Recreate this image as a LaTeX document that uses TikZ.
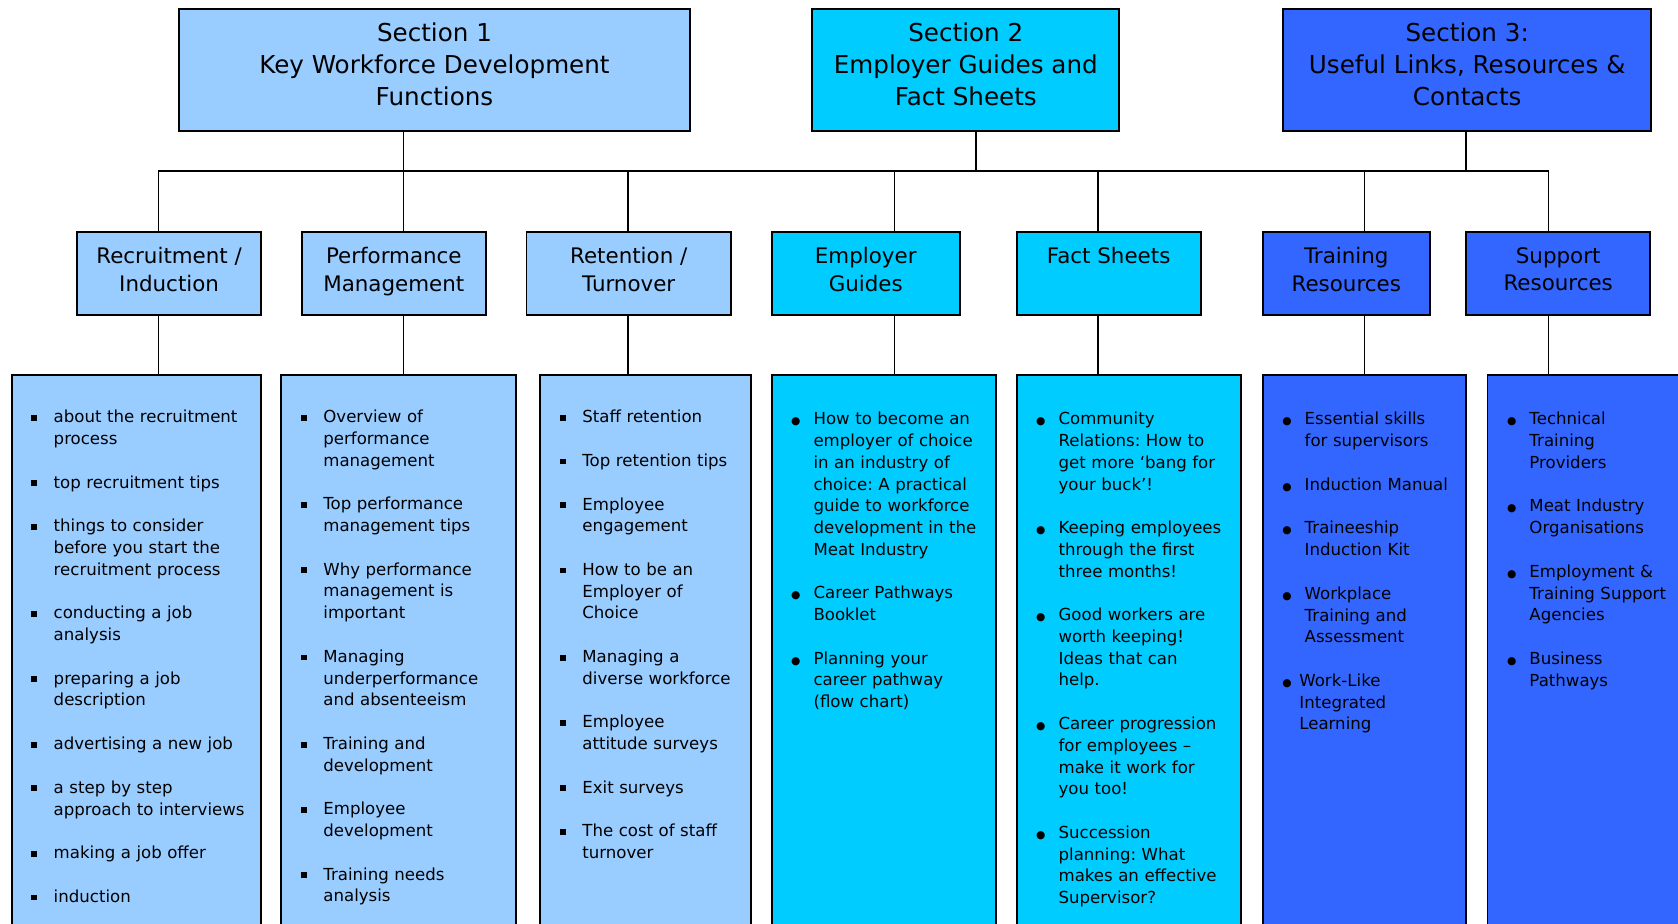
\documentclass[tikz,border=0pt]{standalone}
\usepackage{fontspec}
\setmainfont{DejaVu Sans}
\frenchspacing
\definecolor{paleblue}{HTML}{99CCFF}
\definecolor{skyblue}{HTML}{00CCFF}
\definecolor{royalblue}{HTML}{3366FF}
\newcommand{\sqbul}{\raisebox{1.8pt}{\rule{5.5pt}{5.5pt}}}
\newcommand{\rdbul}{{\fontsize{10pt}{10pt}\selectfont ●}}
\newenvironment{wflist}[1]{%
  \raggedright
  \begin{list}{#1}{%
    \setlength{\leftmargin}{39pt}%
    \setlength{\labelwidth}{39pt}%
    \setlength{\labelsep}{0pt}%
    \setlength{\itemindent}{0pt}%
    \setlength{\itemsep}{20.5pt}%
    \setlength{\parsep}{0pt}%
    \setlength{\topsep}{0pt}%
    \setlength{\partopsep}{0pt}%
    \renewcommand{\makelabel}[1]{\makebox[39pt][l]{\hspace{18pt}##1}}}}%
  {\end{list}}
\begin{document}
\begin{tikzpicture}[x=1pt,y=-1pt,
  box/.style={draw=black,line width=1.8pt,inner sep=0pt,outer sep=0pt,align=center},
  topbox/.style={box,minimum height=114pt,font=\fontsize{23pt}{30pt}\selectfont},
  headbox/.style={box,minimum height=77pt,font=\fontsize{20pt}{26pt}\selectfont},
  colbox/.style={box,minimum height=590pt},
  items/.style={anchor=north west,inner sep=0pt,font=\fontsize{15.5pt}{20.3pt}\selectfont},
  conn/.style={line width=1.5pt}]
\fill[white] (0,0) rectangle (1568,863.4);
\useasboundingbox (0,0) rectangle (1568,863.4);

\node[topbox,fill=paleblue,minimum width=478pt] (sec1) at (406,65) {Section 1\\Key Workforce Development\\Functions\\[-20pt]\mbox{}};
\node[topbox,fill=skyblue,minimum width=287pt] (sec2) at (902.5,65) {Section 2\\Employer Guides and\\Fact Sheets\\[-20pt]\mbox{}};
\node[topbox,fill=royalblue,minimum width=344pt] (sec3) at (1371,65) {Section 3:\\Useful Links, Resources \&\\Contacts\\[-20pt]\mbox{}};

\node[headbox,fill=paleblue,minimum width=172pt] (rec) at (158,255.5) {Recruitment /\\Induction\\[-18pt]\mbox{}};
\node[headbox,fill=paleblue,minimum width=172pt] (perf) at (368,255.5) {Performance\\Management\\[-18pt]\mbox{}};
\node[headbox,fill=paleblue,minimum width=191pt] (ret) at (587.5,255.5) {Retention /\\Turnover\\[-18pt]\mbox{}};
\node[headbox,fill=skyblue,minimum width=176pt] (emp) at (809,255.5) {Employer\\Guides\\[-18pt]\mbox{}};
\node[headbox,fill=skyblue,minimum width=172pt] (fact) at (1036,255.5) {Fact Sheets\\\strut};
\node[headbox,fill=royalblue,minimum width=156pt] (train) at (1258,255.5) {Training\\Resources\\[-18pt]\mbox{}};
\node[headbox,fill=royalblue,minimum width=172pt] (sup) at (1456,255.5) {Support\\Resources\\[-18pt]\mbox{}};

\foreach \n/\x/\w/\c in {1/127.5/233/paleblue,2/372.5/219/paleblue,3/603.5/197/paleblue,
  4/826/210/skyblue,5/1055/210/skyblue,6/1275/190/royalblue,7/1550/320/royalblue}
{
    \node[colbox,fill=\c,minimum width=\w pt] (l\n) at (\x,645.5) {};
}

\foreach \n/\x in {1/148,2/377,3/587,4/836,5/1026,6/1275,7/1447}
{
    \coordinate (b\n) at (\x,160);
}
\coordinate (s2) at (912,160);
\coordinate (s3) at (1370,160);
\draw[conn] (b1) -- (b7);
\draw[conn] (sec1.south -| b2) -- (b2);
\draw[conn] (sec2.south -| s2) -- (s2);
\draw[conn] (sec3.south -| s3) -- (s3);
\foreach \n/\h in {1/rec,2/perf,3/ret,4/emp,5/fact,6/train,7/sup}
{
    \draw[conn] (b\n) -- (b\n |- \h.north);
    \draw[conn] (b\n |- \h.south) -- (b\n |- l\n.north);
}

\node[items,text width=233pt] (t1) at ([yshift=-24pt]l1.north west) {\begin{wflist}{\sqbul}
\item about the recruitment\newline process
\item top recruitment tips
\item things to consider\newline before you start the\newline recruitment process
\item conducting a job\newline analysis
\item preparing a job\newline description
\item advertising a new job
\item a step by step\newline approach to interviews
\item making a job offer
\item induction
\end{wflist}};
\node[items,text width=219pt] (t2) at ([yshift=-24pt]l2.north west) {\begin{wflist}{\sqbul}
\item Overview of\newline performance\newline management
\item Top performance\newline management tips
\item Why performance\newline management is\newline important
\item Managing\newline underperformance\newline and absenteeism
\item Training and\newline development
\item Employee\newline development
\item Training needs\newline analysis
\end{wflist}};
\node[items,text width=197pt] (t3) at ([yshift=-24pt]l3.north west) {\begin{wflist}{\sqbul}
\item Staff retention
\item Top retention tips
\item Employee\newline engagement
\item How to be an\newline Employer of\newline Choice
\item Managing a\newline diverse workforce
\item Employee\newline attitude surveys
\item Exit surveys
\item The cost of staff\newline turnover
\end{wflist}};
\node[items,text width=210pt] (t4) at ([yshift=-26pt]l4.north west) {\begin{wflist}{\rdbul}
\item How to become an\newline employer of choice\newline in an industry of\newline choice: A practical\newline guide to workforce\newline development in the\newline Meat Industry
\item Career Pathways\newline Booklet
\item Planning your\newline career pathway\newline (flow chart)
\end{wflist}};
\node[items,text width=210pt] (t5) at ([yshift=-26pt]l5.north west) {\begin{wflist}{\rdbul}
\item Community\newline Relations: How to\newline get more ‘bang for\newline your buck’!
\item Keeping employees\newline through the first\newline three months!
\item Good workers are\newline worth keeping!\newline Ideas that can\newline help.
\item Career progression\newline for employees --\newline make it work for\newline you too!
\item Succession\newline planning: What\newline makes an effective\newline Supervisor?
\end{wflist}};
\node[items,text width=190pt] (t6) at ([yshift=-26pt]l6.north west) {\begin{wflist}{\rdbul}
\item Essential skills\newline for supervisors
\item Induction Manual
\item Traineeship\newline Induction Kit
\item Workplace\newline Training and\newline Assessment
\item \hspace*{-5pt}\parbox[t]{150pt}{Work-Like\newline Integrated\newline Learning}
\end{wflist}};
\node[items,text width=250pt] (t7) at ([yshift=-26pt]l7.north west) {\begin{wflist}{\rdbul}
\item Technical\newline Training\newline Providers
\item Meat Industry\newline Organisations
\item Employment \&\newline Training Support\newline Agencies
\item Business\newline Pathways
\end{wflist}};

\end{tikzpicture}
\end{document}
